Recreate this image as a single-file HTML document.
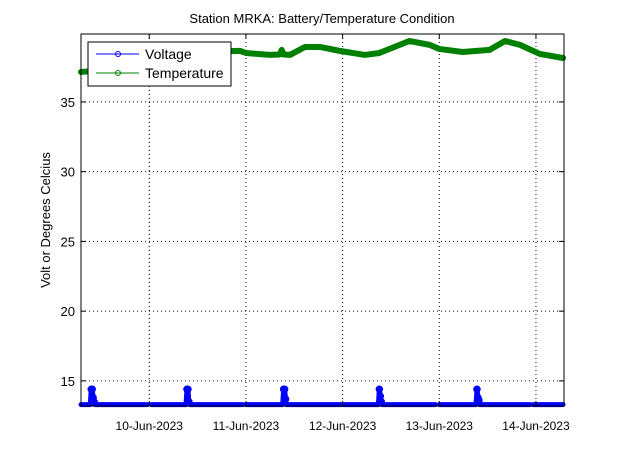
<!DOCTYPE html>
<html><head><meta charset="utf-8"><style>
body{margin:0;background:#fff;font-family:"Liberation Sans",sans-serif}
svg text{font-family:"Liberation Sans",sans-serif}
</style></head><body>
<svg width="623" height="466" xmlns="http://www.w3.org/2000/svg">
<rect width="623" height="466" fill="#fff"/>
<g id="grid"></g>
<g id="series"></g>
<g id="axes"></g>
</svg>
<script>
const xTicks=[10,11,12,13,14];
const xTickLabels=["10-Jun-2023","11-Jun-2023","12-Jun-2023","13-Jun-2023","14-Jun-2023"];
const yTicks=[15,20,25,30,35];
const tempTimes=[9.294,9.397,9.594,10.007,10.524,10.938,11.0,11.248,11.35,11.37,11.39,11.455,11.61,11.765,11.97,12.23,12.38,12.69,12.9,13.0,13.24,13.52,13.68,13.835,14.04,14.28];
const tempValues=[37.15,37.2,37.6,38.3,38.6,38.66,38.51,38.37,38.4,38.73,38.4,38.37,38.94,38.94,38.66,38.37,38.51,39.37,39.09,38.8,38.58,38.73,39.37,39.09,38.44,38.15];
const voltTimes=[9.294,9.39,9.40,9.41,9.42,9.43,9.44,9.98,null,10.02,10.38,10.39,10.40,10.41,10.42,10.97,null,11.0,11.38,11.39,11.40,11.41,11.42,11.98,null,12.0,12.37,12.38,12.39,12.40,12.41,12.96,null,13.0,13.38,13.39,13.40,13.41,13.42,13.94,null,13.97,14.28];
const voltValues=[13.3,13.3,14.4,14.4,13.8,13.5,13.3,13.3,null,13.3,13.3,14.4,14.4,13.5,13.3,13.3,null,13.3,13.3,14.4,14.4,13.7,13.3,13.3,null,13.3,13.3,14.4,13.9,13.5,13.3,13.3,null,13.3,13.3,14.4,13.8,13.6,13.3,13.3,null,13.3,13.3];
const L=81,R=564,T=34,B=406,x0=9.294,x1=14.29,y0=13.2,y1=39.87;
const X=d=>L+(d-x0)/(x1-x0)*(R-L);
const Y=v=>B-(v-y0)/(y1-y0)*(B-T);
const NS="http://www.w3.org/2000/svg";
function mk(tag,attrs,parent){const e=document.createElementNS(NS,tag);for(const k in attrs)e.setAttribute(k,attrs[k]);parent.appendChild(e);return e;}
const grid=document.getElementById('grid'),ser=document.getElementById('series'),ax=document.getElementById('axes');
xTicks.forEach((t,i)=>{
 const g=mk('line',{x1:X(t),x2:X(t),y1:T,y2:B,stroke:'#000','stroke-dasharray':'1,3','stroke-width':1},grid);
 
 mk('line',{x1:X(t),x2:X(t),y1:B,y2:B-5,stroke:'#000'},ax);
 mk('line',{x1:X(t),x2:X(t),y1:T,y2:T+5,stroke:'#000'},ax);
 const tx=mk('text',{x:X(t),y:B+24,'text-anchor':'middle','font-size':12},ax);tx.textContent=xTickLabels[i];
 
});
yTicks.forEach(t=>{
 const g=mk('line',{x1:L,x2:R,y1:Y(t),y2:Y(t),stroke:'#000','stroke-dasharray':'1,3','stroke-width':1},grid);
 
 mk('line',{x1:L,x2:L+5,y1:Y(t),y2:Y(t),stroke:'#000'},ax);
 mk('line',{x1:R,x2:R-5,y1:Y(t),y2:Y(t),stroke:'#000'},ax);
 const tx=mk('text',{x:L-6,y:Y(t)+5,'text-anchor':'end','font-size':13},ax);tx.textContent=t;
 
});
// temperature
let pts=tempTimes.map((t,i)=>X(t)+','+Y(tempValues[i])).join(' ');
const tl=mk('polyline',{points:pts,fill:'none',stroke:'#008000','stroke-width':6,'stroke-linejoin':'round','stroke-linecap':'round'},ser);

// voltage
let segs=[],cur=[];
voltTimes.forEach((t,i)=>{if(t===null){segs.push(cur);cur=[];}else cur.push(X(t)+','+Y(voltValues[i]));});segs.push(cur);
segs.forEach(s=>{const v=mk('polyline',{points:s.join(' '),fill:'none',stroke:'#0000ff','stroke-width':5,'stroke-linejoin':'round','stroke-linecap':'round'},ser);
 });
voltTimes.forEach((t,i)=>{if(t!==null&&voltValues[i]>13.4){const c=mk('circle',{cx:X(t),cy:Y(voltValues[i]),r:3,fill:'none',stroke:'#0000ff','stroke-width':1.5},ser);
 }});
const fr=mk('rect',{x:L,y:T,width:R-L,height:B-T,fill:'none',stroke:'#000'},ax);

const ti=mk('text',{x:322,y:23,'text-anchor':'middle','font-size':13},ax);ti.textContent='Station MRKA: Battery/Temperature Condition';

const yl=mk('text',{x:0,y:0,'text-anchor':'middle','font-size':13,transform:`translate(50,${(T+B)/2}) rotate(-90)`},ax);yl.textContent='Volt or Degrees Celcius';

// legend
const lg=mk('g',{},ax);
mk('rect',{x:88,y:42,width:143,height:44,fill:'#fff',stroke:'#000'},lg);
[['Voltage','#0000ff',54],['Temperature','#008000',73]].forEach(([n,c,y])=>{
 const e=mk('g',{},lg);
 mk('line',{x1:96,x2:139,y1:y,y2:y,stroke:c},e);
 mk('circle',{cx:118,cy:y,r:2.5,fill:'none',stroke:c},e);
 const t=mk('text',{x:145,y:y+5,'font-size':14},e);t.textContent=n;
});
</script>
</body></html>
